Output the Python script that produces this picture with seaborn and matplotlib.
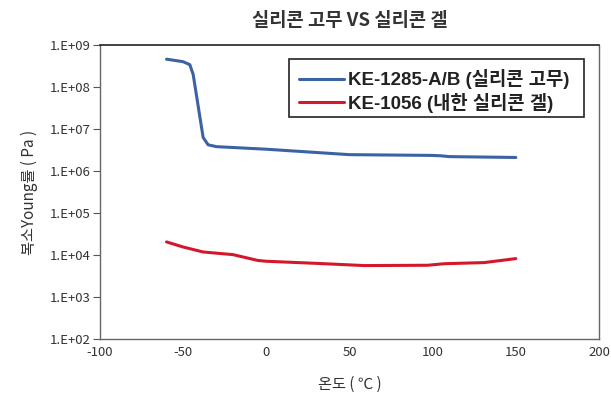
import numpy as np
import pandas as pd
import matplotlib
matplotlib.use("Agg")
import matplotlib.pyplot as plt
import seaborn as sns
from matplotlib.patches import Rectangle
from matplotlib.ticker import FixedLocator, FuncFormatter, NullLocator

sns.set_theme(style="white")
plt.rcParams['font.family'] = ['Noto Sans CJK KR', 'DejaVu Sans']
plt.rcParams['axes.unicode_minus'] = False

# Data (temperature in °C, complex Young's modulus in Pa)
rubber_temp = [-60, -50, -46, -44, -38, -35, -30, 0, 50, 100, 105, 110, 150]
rubber_mod = [4.6e8, 4.0e8, 3.4e8, 2.0e8, 6.3e6, 4.2e6, 3.8e6, 3.3e6, 2.45e6, 2.35e6, 2.3e6, 2.2e6, 2.1e6]
gel_temp = [-60, -50, -38, -20, -5, 0, 31, 59, 97, 107, 131, 150]
gel_mod = [2.05e4, 1.55e4, 1.18e4, 1.02e4, 7.4e3, 7.1e3, 6.3e3, 5.6e3, 5.7e3, 6.2e3, 6.6e3, 8.2e3]

rubber_label = "KE-1285-A/B (실리콘 고무)"
gel_label = "KE-1056 (내한 실리콘 겔)"
title = "실리콘 고무 VS 실리콘 겔"
xlabel = "온도 ( ℃ )"
ylabel = "복소Young률 ( Pa )"
xticks = [-100, -50, 0, 50, 100, 150, 200]
yticks = [1e2, 1e3, 1e4, 1e5, 1e6, 1e7, 1e8, 1e9]

df = pd.concat([
    pd.DataFrame({"temp": rubber_temp, "mod": rubber_mod, "series": rubber_label}),
    pd.DataFrame({"temp": gel_temp, "mod": gel_mod, "series": gel_label}),
])

fig = plt.figure(figsize=(6.11, 3.97), dpi=100)
ax = fig.add_axes([100/611, 1-339/397, 499/611, 294/397])

sns.lineplot(data=df, x="temp", y="mod", hue="series",
             palette={rubber_label: "#3c62a6", gel_label: "#d5172b"},
             linewidth=2.2, ax=ax, sort=False)

ax.set_yscale("log")
ax.set_xlim(-100, 200)
ax.set_ylim(1e2, 1e9)
ax.yaxis.set_major_locator(FixedLocator(yticks))
ax.yaxis.set_minor_locator(NullLocator())
ax.yaxis.set_major_formatter(FuncFormatter(lambda v, p: "1.E+%02d" % int(round(np.log10(v)))))
ax.set_xticks(xticks)

ax.tick_params(axis="x", direction="in", length=5, width=0.8, color="#555555",
               labelsize=9.5, labelcolor="#333333", pad=5)
ax.tick_params(axis="y", direction="out", length=5, width=0.8, color="#555555",
               labelsize=9.5, labelcolor="#333333", pad=2, left=True)
for s in ["left", "right", "bottom"]:
    ax.spines[s].set_color("#666666")
    ax.spines[s].set_linewidth(1.0)
ax.spines["top"].set_color("#222222")
ax.spines["top"].set_linewidth(1.2)

ax.set_xlabel(xlabel, fontsize=11, color="#333333", labelpad=12)
ax.set_ylabel(ylabel, fontsize=11, color="#333333", labelpad=8)
ax.set_title(title, fontsize=13.5, fontweight="bold", color="#333333", pad=14)

# legend frame drawn separately for exact padding
ax.add_patch(Rectangle((0.379, 0.755), 0.591, 0.197, transform=ax.transAxes,
                       facecolor="white", edgecolor="#222222", linewidth=1.2,
                       zorder=4))
leg = ax.legend(loc="upper left", bbox_to_anchor=(0.399, 0.918), frameon=False,
                prop={"family": ["Liberation Sans", "Noto Sans CJK KR"],
                      "weight": "bold", "size": 13.5},
                handlelength=2.4, borderpad=0.0, labelspacing=0.2,
                handletextpad=0.22, borderaxespad=0.0)
leg.set_zorder(5)
for t in leg.get_texts():
    t.set_color("#222222")

fig.savefig("out.png", dpi=100)
